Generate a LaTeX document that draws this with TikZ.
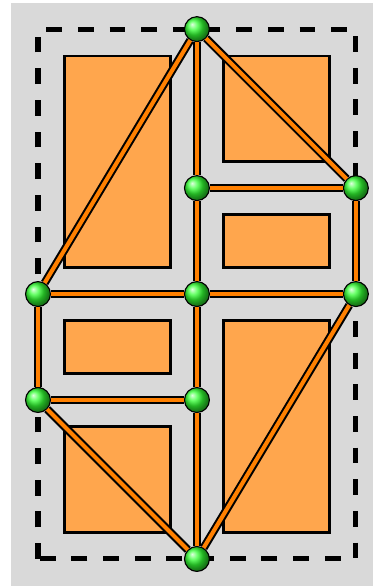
\documentclass[tikz,border=0pt]{standalone}
\usepackage{tikz}
\definecolor{bggray}{RGB}{217,217,217}
\definecolor{blockorange}{RGB}{255,166,77}
\definecolor{pipeorange}{RGB}{255,128,0}
\definecolor{ballgreen}{RGB}{50,255,50}
\usetikzlibrary{positioning}

\begin{document}
\begin{tikzpicture}[
  block/.style={draw=black, fill=blockorange, line width=1.2pt},
  pipe/.style={draw=black, double=pipeorange, double distance=2.2pt, line width=1.1pt},
  ball/.style={circle, draw=black, line width=0.6pt, shading=ball, ball color=ballgreen, minimum size=0.47cm, inner sep=0pt}]
\useasboundingbox (-0.717,-0.51) rectangle (6.32,10.55);
% Background and dashed frame
\fill[bggray] (-0.5,-0.51) rectangle (6.32,10.5);
\draw[line width=2.7pt, dash pattern=on 8.5pt off 8.5pt] (0,0) rectangle (6,10);
% Blocks
\draw[block] (0.5,5.5) rectangle (2.5,9.5);
\draw[block] (3.5,7.5) rectangle (5.5,9.5);
\draw[block] (3.5,5.5) rectangle (5.5,6.5);
\draw[block] (0.5,3.5) rectangle (2.5,4.5);
\draw[block] (0.5,0.5) rectangle (2.5,2.5);
\draw[block] (3.5,0.5) rectangle (5.5,4.5);
% Junctions
\node[ball] (top) at (3,10) {};
\node[ball] (bot) at (3,0) {};
\node[ball] (lft) at (0,5) {};
\node[ball] (rgt) at (6,5) {};
\node[ball] (ctr) at (3,5) {};
\node[ball] (cu) at (3,7) {};
\node[ball] (ru) at (6,7) {};
\node[ball] (ld) at (0,3) {};
\node[ball] (cd) at (3,3) {};
% Pipes
\draw[pipe] (top) -- (lft);
\draw[pipe] (top) -- (cu);
\draw[pipe] (top) -- (ru);
\draw[pipe] (cu) -- (ru);
\draw[pipe] (cu) -- (ctr);
\draw[pipe] (ru) -- (rgt);
\draw[pipe] (lft) -- (ctr);
\draw[pipe] (ctr) -- (rgt);
\draw[pipe] (lft) -- (ld);
\draw[pipe] (ctr) -- (cd);
\draw[pipe] (ld) -- (cd);
\draw[pipe] (ld) -- (bot);
\draw[pipe] (cd) -- (bot);
\draw[pipe] (rgt) -- (bot);
\end{tikzpicture}
\end{document}
